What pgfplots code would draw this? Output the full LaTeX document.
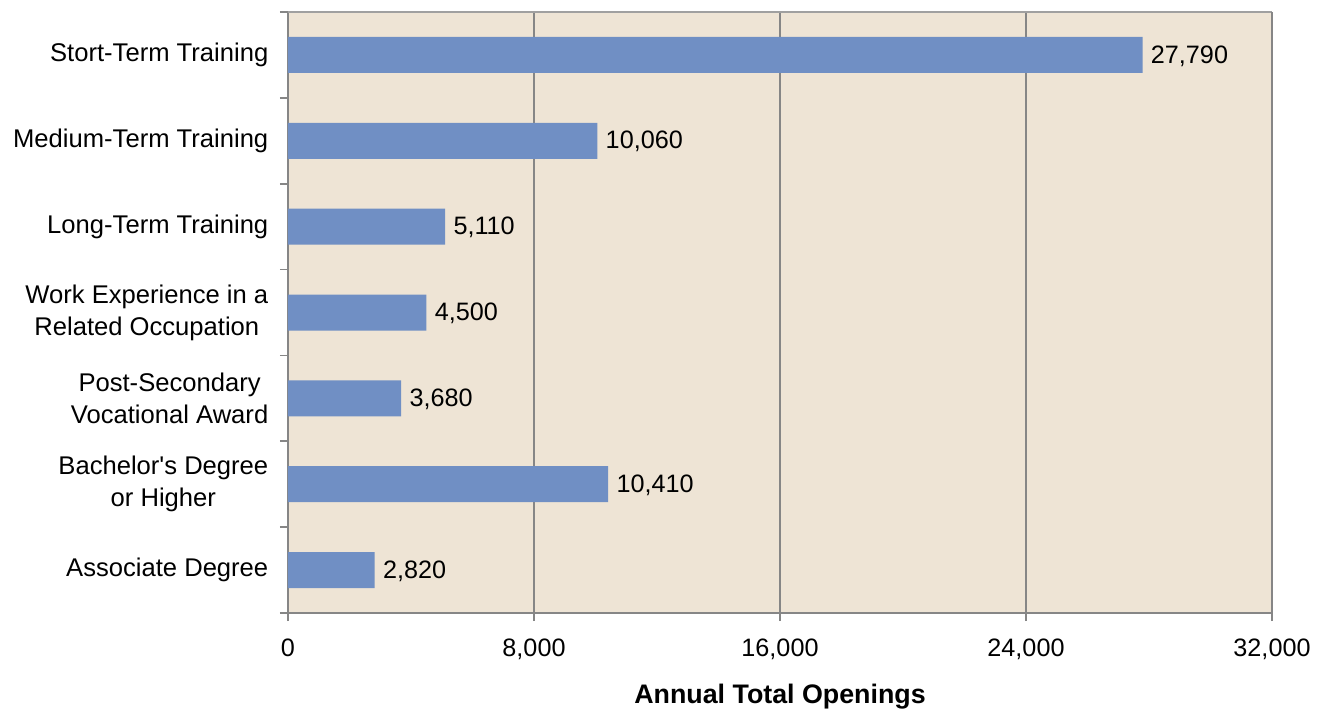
\documentclass[border=0pt]{standalone}
\usepackage{pgfplots}
\pgfplotsset{compat=1.18}
\usepackage{fontspec}
\setmainfont{Liberation Sans}
\definecolor{barblue}{RGB}{112,143,196}
\definecolor{bgbeige}{RGB}{238,228,213}
\definecolor{gridgray}{RGB}{134,134,134}
\definecolor{frametop}{RGB}{160,160,160}
\begin{document}
\fontsize{12.5}{16}\selectfont
\begin{tikzpicture}
\begin{axis}[
  name=ax,
  at={(0,0)}, anchor=south west,
  scale only axis,
  width=492pt, height=300.5pt,
  xbar, bar width=18pt,
  xmin=0, xmax=32000,
  ymin=0.5, ymax=7.5,
  xtick={0,8000,16000,24000,32000},
  scaled x ticks=false,
  /pgf/number format/.cd, 1000 sep={,}, assume math mode=true,
  /pgfplots/.cd,
  ytick={1,...,7},
  yticklabels={Associate Degree,{Bachelor\textquotesingle s Degree\\or Higher},{Post-Secondary\\Vocational Award},{Work Experience in a\\Related Occupation},Long-Term Training,Medium-Term Training,Stort-Term Training},
  yticklabel style={align=center, font=\fontsize{12.8}{16}\selectfont, xshift=-1.5pt},
  xticklabel style={font=\fontsize{12.6}{16}\selectfont, yshift=-4.5pt},
  minor ytick={0.5,1.5,...,7.5},
  major tick length=4pt,
  minor tick length=4pt,
  tick align=outside,
  tick style={gridgray, line width=0.8pt},
  major y tick style={draw=none},
  xmajorgrids,
  grid style={gridgray, line width=0.8pt},
  axis background/.style={fill=bgbeige},
  axis line style={gridgray, line width=1pt},
  separate axis lines,
  axis x line*=bottom, axis y line*=left,
  xlabel={\fontsize{13.4}{16}\selectfont\bfseries Annual Total Openings},
  xlabel style={yshift=-3.5pt},
  nodes near coords,
  nodes near coords style={anchor=west, font=\fontsize{12.6}{16}\selectfont, inner sep=2pt, xshift=2pt, yshift=-0.5pt},
  every node near coord/.append style={/pgf/number format/1000 sep={,}},
  clip=false,
]
\addplot[fill=barblue, draw=none] coordinates {
 (2820,1) (10410,2) (3680,3) (4500,4) (5110,5) (10060,6) (27790,7)
};
\draw[frametop, line width=0.8pt] (rel axis cs:0,1) -- (rel axis cs:1,1);
\draw[gridgray, line width=0.8pt] (rel axis cs:1,0) -- (rel axis cs:1,1);
\end{axis}
\pgfresetboundingbox
\path[use as bounding box] (-144pt,-48pt) rectangle (521.5pt,306.5pt);
\end{tikzpicture}
\end{document}
